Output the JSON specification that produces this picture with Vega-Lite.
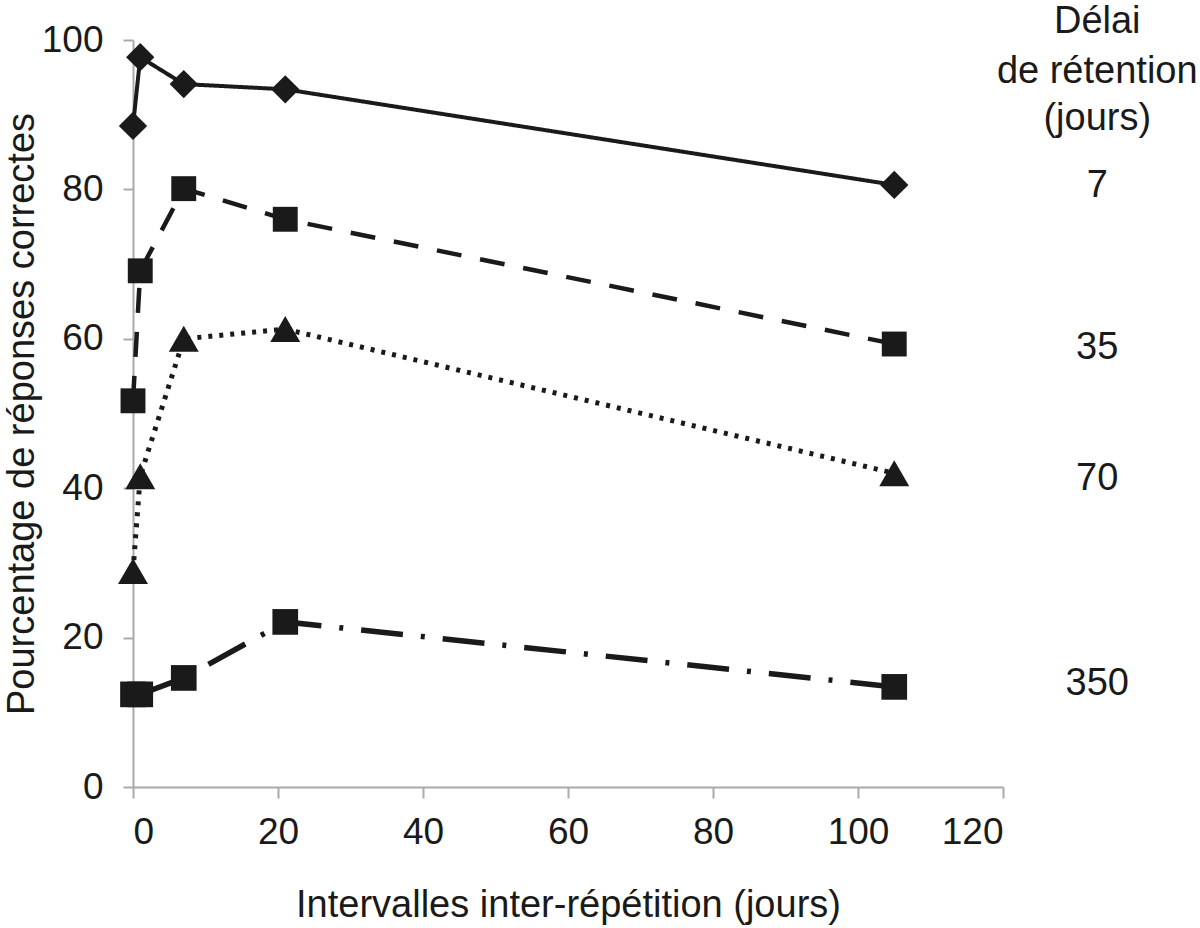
{
  "$schema": "https://vega.github.io/schema/vega-lite/v6.json",
  "width": 870,
  "height": 747,
  "autosize": {"type": "none"},
  "padding": {"left": 133, "top": 40, "right": 197, "bottom": 141},
  "background": "white",
  "config": {
    "view": {"stroke": null},
    "font": "Liberation Sans",
    "axis": {
      "grid": false,
      "domainColor": "#aaaaaa",
      "domainWidth": 2,
      "tickColor": "#aaaaaa",
      "tickWidth": 2,
      "tickSize": 10,
      "labelFont": "Liberation Sans",
      "labelFontSize": 37,
      "labelColor": "#1a1a1a",
      "titleFont": "Liberation Sans",
      "titleFontSize": 38,
      "titleFontWeight": "normal",
      "titleColor": "#1a1a1a"
    }
  },
  "datasets": {
    "series": [
      {"ecart": 0, "pct": 88.5, "delai": "7"},
      {"ecart": 1, "pct": 97.7, "delai": "7"},
      {"ecart": 7, "pct": 94.1, "delai": "7"},
      {"ecart": 21, "pct": 93.4, "delai": "7"},
      {"ecart": 105, "pct": 80.6, "delai": "7"},
      {"ecart": 0, "pct": 51.7, "delai": "35"},
      {"ecart": 1, "pct": 69.1, "delai": "35"},
      {"ecart": 7, "pct": 80.1, "delai": "35"},
      {"ecart": 21, "pct": 76.0, "delai": "35"},
      {"ecart": 105, "pct": 59.3, "delai": "35"},
      {"ecart": 0, "pct": 28.9, "delai": "70"},
      {"ecart": 1, "pct": 41.6, "delai": "70"},
      {"ecart": 7, "pct": 60.0, "delai": "70"},
      {"ecart": 21, "pct": 61.3, "delai": "70"},
      {"ecart": 105, "pct": 42.0, "delai": "70"},
      {"ecart": 0, "pct": 12.4, "delai": "350"},
      {"ecart": 1, "pct": 12.4, "delai": "350"},
      {"ecart": 7, "pct": 14.6, "delai": "350"},
      {"ecart": 21, "pct": 22.1, "delai": "350"},
      {"ecart": 105, "pct": 13.4, "delai": "350"}
    ],
    "labels": [
      {"x": 133, "y": 100.9, "text": "Délai"},
      {"x": 133, "y": 94.2, "text": "de rétention"},
      {"x": 133, "y": 88.0, "text": "(jours)"},
      {"x": 133, "y": 79.0, "text": "7"},
      {"x": 133, "y": 57.3, "text": "35"},
      {"x": 133, "y": 39.7, "text": "70"},
      {"x": 133, "y": 12.3, "text": "350"}
    ]
  },
  "layer": [
    {
      "data": {"name": "series"},
      "mark": {"type": "line", "color": "#1a1a1a", "strokeCap": "butt", "clip": false},
      "encoding": {
        "x": {"field": "ecart", "type": "quantitative", "scale": {"domain": [0, 120], "nice": false}, "axis": {"values": [0, 20, 40, 60, 80, 100, 120], "title": "Intervalles inter-répétition (jours)", "tickSize": 11, "labelPadding": 16, "titlePadding": 36}},
        "y": {"field": "pct", "type": "quantitative", "scale": {"domain": [0, 100], "nice": false}, "axis": {"values": [0, 20, 40, 60, 80, 100], "title": "Pourcentage de réponses correctes", "labelPadding": 20, "titlePadding": 0}},
        "detail": {"field": "delai"},
        "strokeDash": {"field": "delai", "type": "nominal", "scale": {"domain": ["7", "35", "70", "350"], "range": [[1, 0], [25, 19], [4, 7], [42, 18, 4, 18]]}, "legend": null},
        "strokeWidth": {"field": "delai", "type": "nominal", "scale": {"domain": ["7", "35", "70", "350"], "range": [4, 5.5, 4, 4.5]}, "legend": null}
      }
    },
    {
      "data": {"name": "series"},
      "transform": [{"filter": "datum.delai === '7'"}],
      "mark": {"type": "point", "shape": "diamond", "size": 800, "filled": true, "color": "#1a1a1a", "opacity": 1, "clip": false},
      "encoding": {
        "x": {"field": "ecart", "type": "quantitative"},
        "y": {"field": "pct", "type": "quantitative"}
      }
    },
    {
      "data": {"name": "series"},
      "transform": [{"filter": "datum.delai === '35'"}],
      "mark": {"type": "point", "shape": "square", "size": 620, "filled": true, "color": "#1a1a1a", "opacity": 1, "clip": false},
      "encoding": {
        "x": {"field": "ecart", "type": "quantitative"},
        "y": {"field": "pct", "type": "quantitative"}
      }
    },
    {
      "data": {"name": "series"},
      "transform": [{"filter": "datum.delai === '70'"}],
      "mark": {"type": "point", "shape": "triangle-up", "size": 900, "filled": true, "color": "#1a1a1a", "opacity": 1, "clip": false},
      "encoding": {
        "x": {"field": "ecart", "type": "quantitative"},
        "y": {"field": "pct", "type": "quantitative"}
      }
    },
    {
      "data": {"name": "series"},
      "transform": [{"filter": "datum.delai === '350'"}],
      "mark": {"type": "point", "shape": "square", "size": 660, "filled": true, "color": "#1a1a1a", "opacity": 1, "clip": false},
      "encoding": {
        "x": {"field": "ecart", "type": "quantitative"},
        "y": {"field": "pct", "type": "quantitative"}
      }
    },
    {
      "data": {"name": "labels"},
      "mark": {"type": "text", "fontSize": 38, "font": "Liberation Sans", "color": "#1a1a1a", "align": "center", "baseline": "alphabetic", "clip": false},
      "encoding": {
        "x": {"field": "x", "type": "quantitative"},
        "y": {"field": "y", "type": "quantitative"},
        "text": {"field": "text"}
      }
    }
  ]
}
